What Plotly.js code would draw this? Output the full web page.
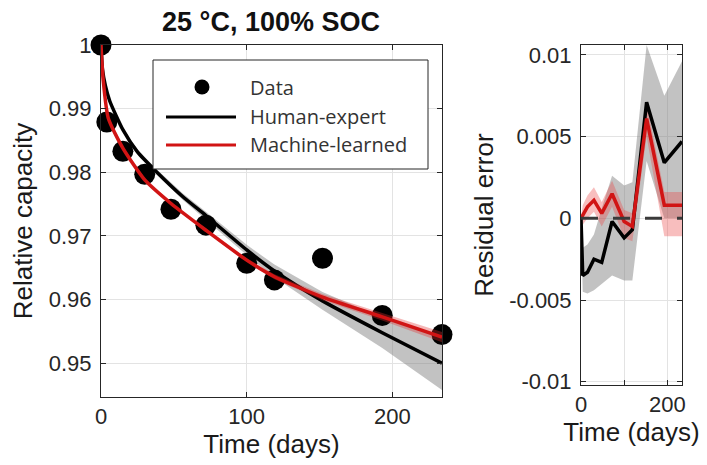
<!DOCTYPE html>
<html>
<head>
<meta charset="utf-8">
<script src="https://cdn.plot.ly/plotly-3.0.1.min.js"></script>
<style>
  html, body { margin: 0; padding: 0; background: #ffffff; }
  #chart { width: 707px; height: 465px; }
</style>
</head>
<body>
<div id="chart"></div>
<script>
// ---- Capacity fade, 25 °C / 100% SOC ----
const days = [0, 4, 15, 30, 48, 72, 100, 119, 152, 193, 234];
const capacity = [1.0, 0.9879, 0.9833, 0.9797, 0.9742, 0.9717, 0.9657, 0.9631, 0.9665, 0.9575, 0.9545];

// Human-expert model fit with its confidence band
const heDays = [0, 1, 3, 6, 15, 25, 38, 56, 72, 100, 119, 152, 193, 234];
const heFit = [1.0, 0.9962, 0.9936, 0.9912, 0.9867, 0.9832, 0.9801, 0.9762, 0.9732, 0.9678, 0.9645, 0.9598, 0.9548, 0.9500];
const heUpper = [1.0, 0.9963, 0.9937, 0.9914, 0.9870, 0.9836, 0.9805, 0.9767, 0.9738, 0.9686, 0.9655, 0.9612, 0.9572, 0.9542];
const heLower = [1.0, 0.9961, 0.9935, 0.9910, 0.9864, 0.9828, 0.9797, 0.9757, 0.9726, 0.9670, 0.9635, 0.9584, 0.9524, 0.9458];

// Machine-learned model fit with its confidence band
const mlDays = [0, 1.5, 5, 15, 30, 48, 72, 100, 119, 152, 193, 234];
const mlFit = [1.0, 0.9945, 0.9885, 0.9838, 0.9788, 0.9751, 0.9709, 0.9662, 0.9636, 0.9604, 0.9573, 0.9541];
const mlUpper = [1.0, 0.9947, 0.9888, 0.9841, 0.9791, 0.9754, 0.9712, 0.9665, 0.9640, 0.9609, 0.9579, 0.9549];
const mlLower = [1.0, 0.9943, 0.9882, 0.9835, 0.9785, 0.9748, 0.9706, 0.9659, 0.9632, 0.9599, 0.9567, 0.9533];

// Residuals at the measurement days
const resDays = [0, 4, 15, 30, 48, 72, 100, 119, 152, 193, 234];
const heResidual = [0, -0.0035, -0.0033, -0.0025, -0.0027, -0.0002, -0.0012, -0.0007, 0.0071, 0.0034, 0.0047];
const heResUpper = [0, -0.0018, -0.0016, -0.0010, 0.0006, 0.0026, 0.0020, 0.0022, 0.0106, 0.0075, 0.0096];
const heResLower = [0, -0.0045, -0.0046, -0.0044, -0.0040, -0.0035, -0.0038, -0.0038, 0.0035, 0.0000, 0.0000];
const mlResidual = [0, 0.0002, 0.0007, 0.0011, 0.0003, 0.0015, -0.0002, -0.0005, 0.0061, 0.0008, 0.0008];
const mlResUpper = [0, 0.0008, 0.0014, 0.0019, 0.0010, 0.0023, 0.0005, 0.0003, 0.0070, 0.0016, 0.0016];
const mlResLower = [0, -0.0004, 0.0000, 0.0004, -0.0005, 0.0007, -0.0012, -0.0014, 0.0050, -0.0011, -0.0011];

// Tick labels
const capTickVals = [0.95, 0.96, 0.97, 0.98, 0.99, 1.0];
const capTickText = ['0.95', '0.96', '0.97', '0.98', '0.99', '1'];
const resTickVals = [-0.01, -0.005, 0, 0.005, 0.01];
const resTickText = ['-0.01', '-0.005', '0', '0.005', '0.01'];
const dayTickVals = [0, 100, 200];
const dayTickText = ['0', '100', '200'];
const dayTickTextNarrow = ['0', '', '200'];

const legendNames = ['Data', 'Human-expert', 'Machine-learned'];

// ---- styling ----
const W = 707, H = 465;
const px = x => x / W;
const py = y => 1 - y / H;
const RED = '#d11414';
const AXIS = '#262626';
const GRID = '#e3e3e3';
const tickFont = { family: 'Liberation Sans, Arial, sans-serif', size: 22, color: AXIS };
const titleFont = { family: 'Liberation Sans, Arial, sans-serif', size: 26, color: '#1a1a1a' };
const legendFont = { family: 'Open Sans, Noto Sans, sans-serif', size: 20, color: '#333333' };

const band = (x, hi, lo, color, xa, ya) => ({
  x: x.concat(x.slice().reverse()),
  y: hi.concat(lo.slice().reverse()),
  xaxis: xa, yaxis: ya,
  type: 'scatter', mode: 'lines', fill: 'toself',
  fillcolor: color, line: { width: 0 }, hoverinfo: 'skip', showlegend: false
});

const traces = [
  band(heDays, heUpper, heLower, 'rgba(120,120,120,0.45)', 'x', 'y'),
  { x: heDays, y: heFit, type: 'scatter', mode: 'lines', name: legendNames[1],
    line: { color: '#000000', width: 3.5, shape: 'spline', smoothing: 0.6 }, showlegend: false },
  { x: days, y: capacity, type: 'scatter', mode: 'markers', name: legendNames[0],
    marker: { color: '#000000', size: 21 }, cliponaxis: false, showlegend: false },
  band(mlDays, mlUpper, mlLower, 'rgba(225,50,50,0.35)', 'x', 'y'),
  { x: mlDays, y: mlFit, type: 'scatter', mode: 'lines', name: legendNames[2],
    line: { color: RED, width: 3.5, shape: 'spline', smoothing: 0.6 }, showlegend: false },

  band(resDays, heResUpper, heResLower, 'rgba(120,120,120,0.45)', 'x2', 'y2'),
  band(resDays, mlResUpper, mlResLower, 'rgba(235,70,70,0.35)', 'x2', 'y2'),
  { x: resDays, y: heResidual, xaxis: 'x2', yaxis: 'y2', type: 'scatter', mode: 'lines',
    name: legendNames[1], line: { color: '#000000', width: 3.5 }, showlegend: false },
  { x: resDays, y: mlResidual, xaxis: 'x2', yaxis: 'y2', type: 'scatter', mode: 'lines',
    name: legendNames[2], line: { color: RED, width: 3.5 }, showlegend: false }
];

const axisBase = {
  showline: true, linecolor: AXIS, linewidth: 1, mirror: 'ticks',
  ticks: 'inside', ticklen: 5, tickcolor: AXIS, tickwidth: 1,
  showgrid: true, gridcolor: GRID, gridwidth: 1, zeroline: false,
  tickfont: tickFont, automargin: false, fixedrange: true
};

// Legend box drawn in paper space
const legBox = { x0: 153, x1: 428, y0: 60, y1: 169 };
const legRows = [87, 117, 145];
const legTextX = 248;

const shapes = [
  { type: 'line', xref: 'x2 domain', yref: 'y2', x0: 0, x1: 1, y0: 0, y1: 0,
    line: { color: '#3a3a3a', width: 3, dash: '17px,15px' }, layer: 'above' },
  { type: 'rect', xref: 'paper', yref: 'paper',
    x0: px(legBox.x0), x1: px(legBox.x1), y0: py(legBox.y1), y1: py(legBox.y0),
    line: { color: AXIS, width: 1 }, fillcolor: '#ffffff', layer: 'above' },
  { type: 'circle', xref: 'paper', yref: 'paper',
    x0: px(202 - 7.5), x1: px(202 + 7.5), y0: py(legRows[0] + 7.5), y1: py(legRows[0] - 7.5),
    line: { width: 0 }, fillcolor: '#000000', layer: 'above' },
  { type: 'line', xref: 'paper', yref: 'paper',
    x0: px(166), x1: px(236), y0: py(legRows[1]), y1: py(legRows[1]),
    line: { color: '#000000', width: 3 }, layer: 'above' },
  { type: 'line', xref: 'paper', yref: 'paper',
    x0: px(166), x1: px(236), y0: py(legRows[2]), y1: py(legRows[2]),
    line: { color: RED, width: 3 }, layer: 'above' }
];

const annotations = legendNames.map((name, i) => ({
  text: name, xref: 'paper', yref: 'paper', x: px(legTextX), y: py(legRows[i]),
  xanchor: 'left', yanchor: 'middle', showarrow: false, font: legendFont
}));

const layout = {
  width: W, height: H,
  margin: { l: 0, r: 0, t: 0, b: 0 },
  paper_bgcolor: '#ffffff', plot_bgcolor: '#ffffff',
  showlegend: false,
  title: {
    text: '<b>25 °C, 100% SOC</b>',
    font: { family: 'Liberation Sans, Arial, sans-serif', size: 27, color: '#111111' },
    xref: 'container', x: px(271), xanchor: 'center',
    yref: 'container', y: py(22), yanchor: 'middle'
  },
  xaxis: Object.assign({}, axisBase, {
    domain: [px(101), px(442)], range: [0, 234], anchor: 'y',
    tickvals: dayTickVals, ticktext: dayTickText,
    title: { text: 'Time (days)', font: titleFont, standoff: 4 }
  }),
  yaxis: Object.assign({}, axisBase, {
    domain: [py(397), py(45)], range: [0.9447, 1.0], anchor: 'x',
    tickvals: capTickVals, ticktext: capTickText, ticklabelstandoff: 4,
    title: { text: 'Relative capacity', font: titleFont, standoff: 8 }
  }),
  xaxis2: Object.assign({}, axisBase, {
    domain: [px(581), px(682)], range: [0, 234], anchor: 'y2',
    tickvals: dayTickVals, ticktext: dayTickTextNarrow,
    title: { text: 'Time (days)', font: titleFont, standoff: 4 }
  }),
  yaxis2: Object.assign({}, axisBase, {
    domain: [py(385), py(45)], range: [-0.0102, 0.0106], anchor: 'x2',
    tickvals: resTickVals, ticktext: resTickText, ticklabelstandoff: 4,
    title: { text: 'Residual error', font: titleFont, standoff: 8 }
  }),
  shapes: shapes,
  annotations: annotations
};

Plotly.newPlot('chart', traces, layout, { displayModeBar: false, staticPlot: true });
</script>
</body>
</html>
